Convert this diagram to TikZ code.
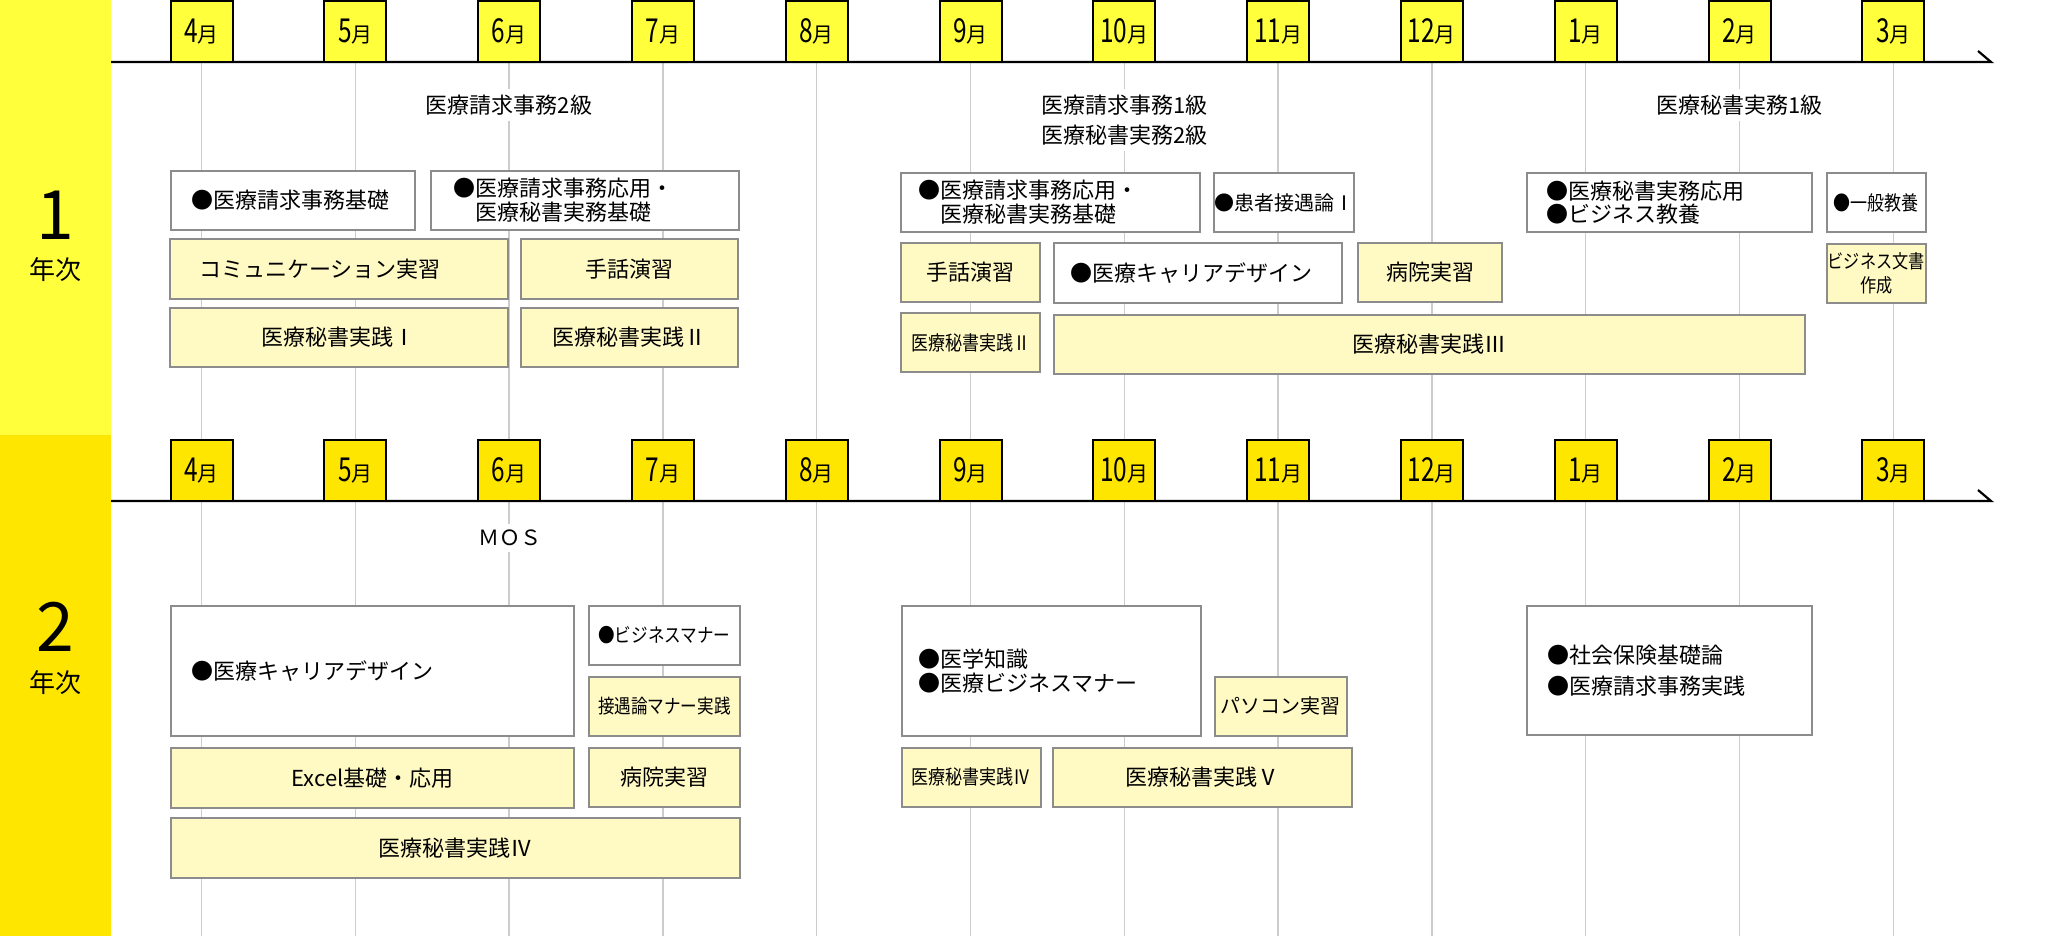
\documentclass[tikz,border=0pt]{standalone}
\usepackage{fontspec}
\setmainfont{Noto Sans CJK JP}
\newfontfamily\narrowf[FakeStretch=0.85]{Noto Sans CJK JP}
\newfontfamily\digitf[FakeStretch=0.74]{Noto Sans CJK JP}
\definecolor{yelA}{HTML}{FFFF3B}
\definecolor{yelB}{HTML}{FFE600}
\definecolor{cream}{HTML}{FFF9C4}
\definecolor{bgray}{HTML}{8C8C8C}
\definecolor{ggray}{HTML}{CCCCCC}
\newcommand\myfs[2]{\fontsize{#1}{#2}\selectfont}
\newcommand\mlab[1]{{\fontsize{33}{33}\digitf #1}{\myfs{21}{21}月}}
% left aligned box: style, name, x1, y1, x2, y2, pad, text
\newcommand\lbx[8]{%
  \pgfmathsetmacro\myBW{#5-#3}\pgfmathsetmacro\myBH{#6-#4}%
  \pgfmathsetmacro\myTW{#5-#3-2*#7}\pgfmathsetmacro\myBX{(#3+#5)/2}\pgfmathsetmacro\myBY{(#4+#6)/2}%
  \node[#1, minimum width=\myBW pt, minimum height=\myBH pt, text width=\myTW pt, align=left, inner xsep=0pt] (#2) at (\myBX,\myBY) {#8};}
% centered box: style, name, x1, y1, x2, y2, text
\newcommand\cbx[7]{%
  \pgfmathsetmacro\myBW{#5-#3}\pgfmathsetmacro\myBH{#6-#4}%
  \pgfmathsetmacro\myBX{(#3+#5)/2}\pgfmathsetmacro\myBY{(#4+#6)/2}%
  \node[#1, minimum width=\myBW pt, minimum height=\myBH pt, align=center, inner sep=0pt] (#2) at (\myBX,\myBY) {#7};}
\begin{document}
\begin{tikzpicture}[x=1pt,y=-1pt,
  wbox/.style={draw=bgray, line width=2pt, fill=white, font=\myfs{22}{24}},
  crbox/.style={draw=bgray, line width=2pt, fill=cream, font=\myfs{22}{24}},
  mboxA/.style={draw=black, line width=2pt, fill=yelA, minimum width=62pt, minimum height=61.5pt, inner sep=0pt},
  mboxB/.style={draw=black, line width=2pt, fill=yelB, minimum width=62pt, minimum height=61.5pt, inner sep=0pt},
  axisline/.style={draw=black, line width=2.2pt},
  gridline/.style={draw=ggray, line width=1.4pt},
  cert/.style={fill=white, inner sep=6pt, align=center, font=\myfs{22}{30}},
  yearnum/.style={font=\myfs{68}{68}, inner sep=0pt},
  yeartxt/.style={font=\myfs{26}{26}, inner sep=0pt}
]
\useasboundingbox (0,0) rectangle (2072,936);
% bands
\fill[yelA] (0,0) rectangle (111,435);
\fill[yelB] (0,435) rectangle (111,936);
\node[yearnum] (yn1) at (55,215) {1};
\node[yeartxt] (yt1) at (55.5,270) {年次};
\node[yearnum] (yn2) at (55,627) {2};
\node[yeartxt] (yt2) at (55.5,683) {年次};
% grid lines
\foreach \i in {0,...,11}{
  \pgfmathsetmacro\gx{201.5+153.8*\i}
  \draw[gridline] (\gx,62) -- (\gx,936);
}
% axes
\coordinate (a1s) at (111,62); \coordinate (a1e) at (1991,62); \coordinate (a1t) at (1978,51);
\coordinate (a2s) at (111,501); \coordinate (a2e) at (1991,501); \coordinate (a2t) at (1978,490);
\draw[axisline] (a1s) -- (a1e) -- (a1t);
\draw[axisline] (a2s) -- (a2e) -- (a2t);
% month boxes
\foreach \m [count=\i from 0] in {4,5,6,7,8,9,10,11,12,1,2,3}{
  \pgfmathsetmacro\gx{201.5+153.8*\i}
  \node[mboxA] (mA\i) at (\gx,31.75) {\mlab{\m}};
  \node[mboxB] (mB\i) at (\gx,470.5) {\mlab{\m}};
}
% certification labels
\node[cert] (c1) at (509,105) {医療請求事務2級};
\node[cert] (c2) at (1124.5,120) {医療請求事務1級\\医療秘書実務2級};
\node[cert] (c3) at (1739.5,105) {医療秘書実務1級};
\node[cert, font=\myfs{21}{21}] (c4) at (509.5,538) {ＭＯＳ};
% year 1 boxes
\lbx{wbox}{bA}{171}{171}{415}{230}{20}{●医療請求事務基礎}
\lbx{wbox}{bB}{431}{171}{739}{230}{22}{●医療請求事務応用・\\　医療秘書実務基礎}
\lbx{crbox}{bC}{170}{239}{507.5}{299}{29}{コミュニケーション実習}
\cbx{crbox}{bD}{521}{239}{738}{299}{手話演習}
\cbx{crbox}{bE}{170}{308}{507.5}{367}{医療秘書実践Ⅰ}
\cbx{crbox}{bF}{521}{308}{738}{367}{医療秘書実践Ⅱ}
\lbx{wbox}{bG}{901}{173}{1200}{232}{17}{●医療請求事務応用・\\　医療秘書実務基礎}
\cbx{wbox,font=\myfs{20}{22}}{bH}{1214.7}{173}{1354}{232}{●患者接遇論Ⅰ}
\cbx{crbox}{bI}{901}{243}{1040}{302}{手話演習}
\lbx{wbox}{bJ}{1053.6}{243}{1342}{303}{17}{●医療キャリアデザイン}
\cbx{crbox}{bK}{1358}{243}{1502}{302}{病院実習}
\cbx{crbox,font=\myfs{20}{22}\narrowf}{bL}{901}{313}{1040}{372}{医療秘書実践Ⅱ}
\cbx{crbox}{bM}{1053.6}{315}{1805}{374}{医療秘書実践Ⅲ}
\lbx{wbox,font=\myfs{22}{23}}{bN}{1527}{173}{1812}{232}{19}{●医療秘書実務応用\\●ビジネス教養}
\cbx{wbox,font=\myfs{20}{22}\narrowf}{bO}{1827}{173}{1925.5}{232}{●一般教養}
\cbx{crbox,font=\myfs{19}{24}\narrowf}{bP}{1827}{244}{1925.5}{303}{ビジネス文書\\作成}
% year 2 boxes
\lbx{wbox}{bQ}{170.6}{605.7}{574.4}{736}{21}{●医療キャリアデザイン}
\cbx{wbox,font=\myfs{19.5}{22}\narrowf}{bR}{589}{605.7}{739.7}{665}{●ビジネスマナー}
\cbx{crbox,font=\myfs{19.5}{22}\narrowf}{bS}{589}{676.7}{739.7}{736}{接遇論マナー実践}
\cbx{crbox}{bT}{170.6}{748}{574.4}{807.7}{Excel基礎・応用}
\cbx{crbox}{bU}{589}{747.7}{739.7}{807}{病院実習}
\cbx{crbox}{bV}{170.6}{818}{739.7}{878}{医療秘書実践Ⅳ}
\lbx{wbox}{bW}{901.5}{605.7}{1201}{736}{17}{●医学知識\\●医療ビジネスマナー}
\cbx{crbox,font=\myfs{20}{22}}{bX}{1214.5}{676.7}{1347}{736}{パソコン実習}
\cbx{crbox,font=\myfs{20}{22}\narrowf}{bY}{901.5}{747.7}{1041}{807}{医療秘書実践Ⅳ}
\cbx{crbox}{bZ}{1053}{748}{1351.5}{807}{医療秘書実践Ⅴ}
\lbx{wbox,font=\myfs{22}{31}}{bAA}{1527}{605.7}{1812.3}{735}{20}{●社会保険基礎論\\●医療請求事務実践}
\end{tikzpicture}
\end{document}
